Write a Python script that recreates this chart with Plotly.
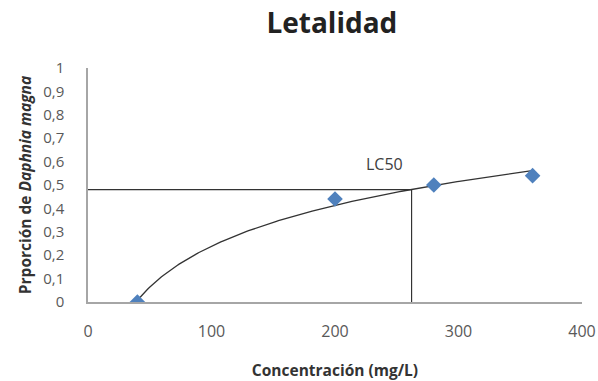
import numpy as np
import plotly.graph_objects as go

# Observed mortality proportions by concentration
concentracion = [40, 200, 280, 360]
proporcion = [0.0, 0.44, 0.50, 0.54]

# LC50 reference point
lc50_x = 262
lc50_y = 0.48

x_ticks = [0, 100, 200, 300, 400]
y_ticks = [0, 0.1, 0.2, 0.3, 0.4, 0.5, 0.6, 0.7, 0.8, 0.9, 1]
y_tick_text = ["0", "0,1", "0,2", "0,3", "0,4", "0,5", "0,6", "0,7", "0,8", "0,9", "1"]

FONT = "Open Sans, Liberation Sans"

# Logarithmic trend line fitted to the observations
a, b = np.polyfit(np.log(concentracion), proporcion, 1)
xt = np.linspace(min(concentracion), max(concentracion), 200)
yt = a * np.log(xt) + b

fig = go.Figure()
fig.add_trace(go.Scatter(x=xt, y=yt, mode="lines",
                         line=dict(color="#333333", width=1.3), hoverinfo="skip"))
fig.add_trace(go.Scatter(x=[0, lc50_x], y=[lc50_y, lc50_y], mode="lines",
                         line=dict(color="#333333", width=1.2)))
fig.add_trace(go.Scatter(x=[lc50_x, lc50_x], y=[0, lc50_y], mode="lines",
                         line=dict(color="#333333", width=1.2)))
fig.add_trace(go.Scatter(x=concentracion, y=proporcion, mode="markers",
                         marker=dict(symbol="diamond", size=12, color="#4F81BD")))

fig.add_annotation(x=240, y=0.59, text="LC50", showarrow=False,
                   font=dict(family=FONT, size=16, color="#404040"))

fig.update_layout(
    width=598, height=381,
    margin=dict(l=88, r=16, t=68, b=79),
    paper_bgcolor="white", plot_bgcolor="white",
    showlegend=False,
    title=dict(text="<b>Letalidad</b>", x=0.555, xanchor="center", y=0.94, yanchor="middle",
               font=dict(family=FONT, size=28, color="#222222")),
    xaxis=dict(range=[0, 400], tickvals=x_ticks, showgrid=False, zeroline=False,
               automargin=False,
               showline=True, linecolor="#A6A6A6", linewidth=1.5,
               tickfont=dict(family=FONT, size=16, color="#595959"),
               ticklabelstandoff=14,
               title=dict(text="<b>Concentración (mg/L)</b>", standoff=24,
                          font=dict(family=FONT, size=15.5, color="#333333"))),
    yaxis=dict(range=[0, 1], tickvals=y_ticks, ticktext=y_tick_text, showgrid=False,
               automargin=False,
               zeroline=False, showline=True, linecolor="#A6A6A6", linewidth=1.5,
               tickfont=dict(family=FONT, size=15, color="#595959"),
               ticklabelstandoff=19,
               title=dict(text="<b>Prporción de <i>Daphnia magna</i></b>", standoff=8,
                          font=dict(family=FONT, size=15.5, color="#333333"))),
)

fig.write_html("out.html")
